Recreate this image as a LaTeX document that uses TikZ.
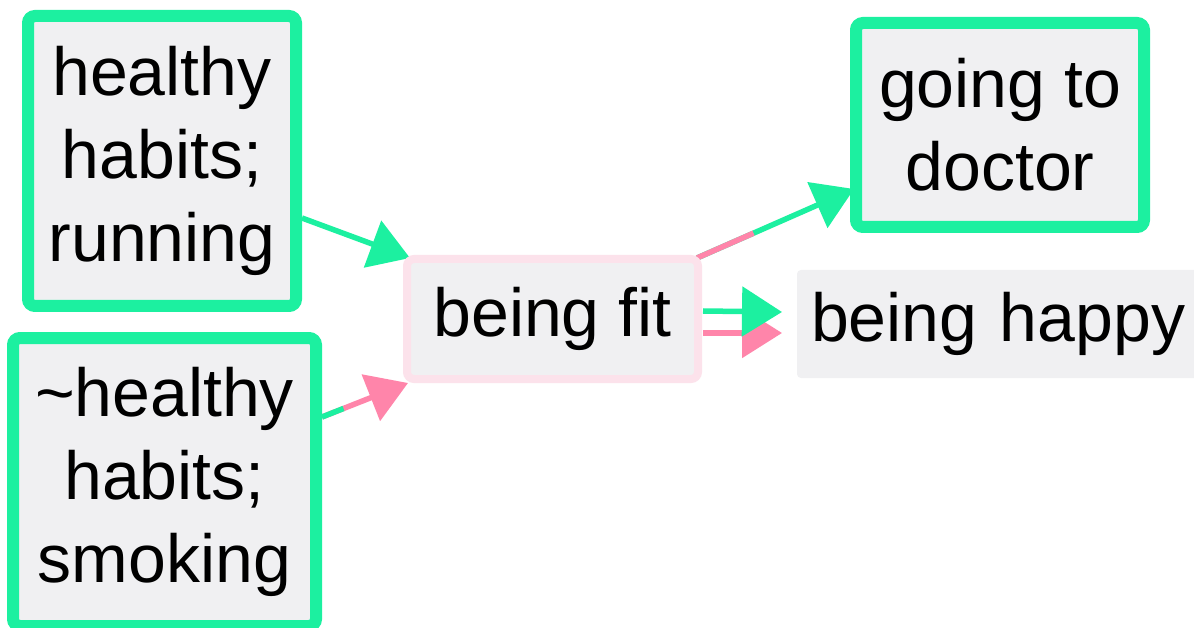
\documentclass[tikz,border=0pt]{standalone}
\usepackage{fontspec}
\setmainfont{Liberation Sans}
\usetikzlibrary{arrows.meta,calc}
\pgfdeclarelayer{bg}
\pgfsetlayers{bg,main}
\definecolor{grn}{RGB}{28,240,160}
\definecolor{pnk}{RGB}{255,133,170}
\definecolor{pnkbd}{RGB}{252,226,235}
\definecolor{boxfill}{RGB}{240,240,242}
\begin{document}
\begin{tikzpicture}[x=1pt,y=-1pt,
  box/.style={rectangle, rounded corners=7pt, fill=boxfill, inner sep=0pt, outer sep=0pt, align=center,
    font=\fontsize{68}{83}\selectfont},
  gbox/.style={box, draw=grn, line width=12pt},
  pbox/.style={box, draw=pnkbd, line width=8pt},
  conn/.style={line width=5.5pt, -{Triangle[length=40pt,width=49pt]}},
  seg/.style={line width=5.5pt},
]
\useasboundingbox (0,0) rectangle (1194,628);
\clip (0,0) rectangle (1194,628);

\node[gbox, minimum width=268pt, minimum height=290pt] (A) at (162,161) {healthy\\habits;\\running};
\node[gbox, minimum width=303pt, minimum height=288pt] (B) at (164.5,482) {\textasciitilde healthy\\habits;\\smoking};
\node[pbox, minimum width=291pt, minimum height=120pt] (C) at (552.5,319) {being fit};
\node[gbox, minimum width=288pt, minimum height=204pt] (D) at (1000,125) {going to\\doctor};
\node[box, rounded corners=4pt, minimum width=403pt, minimum height=108pt, text width=403pt, align=left] (E) at (998.5,324) {\hspace*{14pt}being happy};

\begin{pgfonlayer}{bg}
\fill[white] (0,0) rectangle (1194,628);
% A -> C
\coordinate (a1) at ($(A.east)+(6,57)$);
\coordinate (a2) at ($(C.north west)+(3,-1)$);
\draw[conn, grn] (a1) -- (a2);

% B -> C
\coordinate (b1) at ($(B.east)+(6,-65)$);
\coordinate (b2) at ($(C.south west)+(1,4)$);
\draw[conn, pnk] (b1) -- (b2);
\draw[seg, grn] (b1) -- ($(b1)!0.25!(b2)$);

% C -> D
\coordinate (c1) at ($(C.north east)+(-1,-1)$);
\coordinate (c2) at ($(D.south west)+(-2,-38)$);
\draw[conn, grn] (c1) -- (c2);
\draw[seg, pnk] (c1) -- ($(c1)!0.36!(c2)$);

% C -> E (pink then green)
\coordinate (e3) at ($(C.east)+(5,14)$);
\coordinate (e4) at ($(E.west)+(-15,9)$);
\draw[conn, pnk] (e3) -- (e4);
\coordinate (e1) at ($(C.east)+(5,-8)$);
\coordinate (e2) at ($(E.west)+(-15,-12)$);
\draw[conn, grn] (e1) -- (e2);
\end{pgfonlayer}
\end{tikzpicture}
\end{document}
